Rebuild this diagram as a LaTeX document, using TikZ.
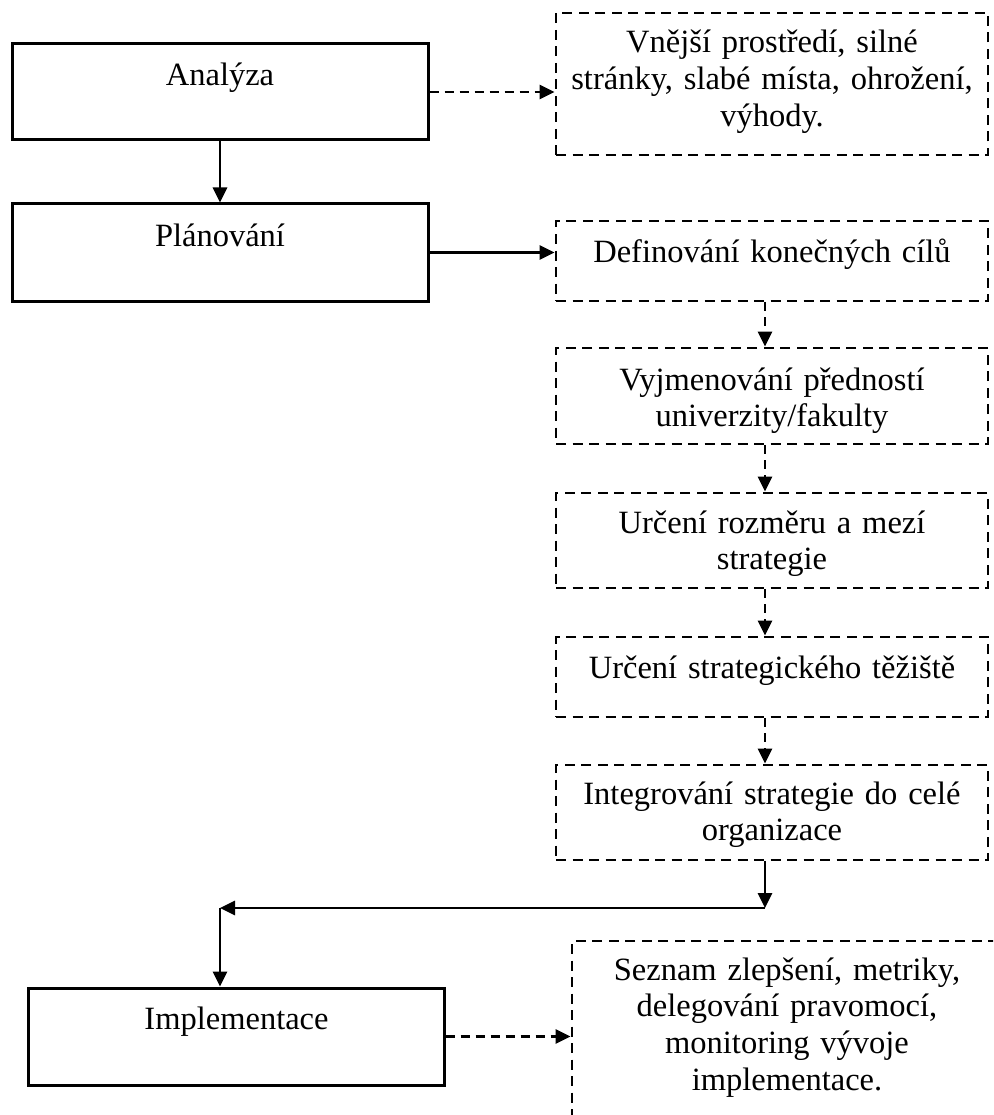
\documentclass[tikz,border=0pt]{standalone}
\usepackage{fontspec}
\setmainfont{Liberation Serif}
\usetikzlibrary{arrows.meta}
\begin{document}
\begin{tikzpicture}[x=1pt,y=-1pt,
  solidbox/.style={draw, line width=3pt, minimum width=416pt, inner sep=0pt},
  dashbox/.style={draw, line width=2.8pt, dash pattern=on 10pt off 6.5pt, minimum width=432pt, inner sep=0pt},
  txt/.style={font=\fontsize{32.5}{36.8}\selectfont, inner sep=0pt, anchor=base, align=center, text width=440pt},
  arr/.style={-{Triangle[length=15pt,width=14pt]}, line width=2.8pt},
  darr/.style={arr, dash pattern=on 9pt off 6pt}]
\useasboundingbox (0,0) rectangle (993,1115);
\clip (0,0) rectangle (993,1115);
% left column boxes
\node[solidbox, minimum height=96pt] (A) at (220,92) {};
\node[solidbox, minimum height=97pt] (P) at (220,252.5) {};
\node[solidbox, minimum height=97pt] (I) at (236,1036.5) {};
\node[txt] (At) at (220,86) {Analýza};
\node[txt] (Pt) at (220,247) {Plánování};
\node[txt] (It) at (236.5,1029) {Implementace};
% right column boxes
\node[dashbox, minimum height=142pt] (R1) at (772,84) {};
\node[dashbox, minimum height=80pt] (Def) at (772,261) {};
\node[dashbox, minimum height=96pt] (Vyj) at (772,396) {};
\node[dashbox, minimum height=95pt] (U1) at (772,540.5) {};
\node[dashbox, minimum height=80pt] (U2) at (772,677) {};
\node[dashbox, minimum height=95pt] (Int) at (772,812.5) {};
\node[dashbox, minimum width=430pt, minimum height=259pt] (L) at (787,1070.5) {};
\node[txt] (R1t) at (772,53) {Vnější prostředí, silné\\stránky, slabé místa, ohrožení,\\výhody.};
\node[txt] (Deft) at (772,262) {Definování konečných cílů};
\node[txt] (Vyjt) at (772,390) {Vyjmenování předností\\univerzity/fakulty};
\node[txt] (U1t) at (772,533) {Určení rozměru a mezí\\strategie};
\node[txt] (U2t) at (772,678) {Určení strategického těžiště};
\node[txt] (Intt) at (772,804) {Integrování strategie do celé\\organizace};
\node[txt] (Lt) at (787,980) {Seznam zlepšení, metriky,\\delegování pravomocí,\\monitoring vývoje\\implementace.};
% connectors
\coordinate (col) at (765,0);
\coordinate (t1) at (765,908);
\coordinate (t2) at (220,908);
\draw[arr] (A.south) -- (P.north);
\draw[darr] (A.east) -- (A.east -| R1.west);
\draw[arr] (P.east) -- (P.east -| Def.west);
\draw[darr] (Def.south -| col) -- (Vyj.north -| col);
\draw[darr] (Vyj.south -| col) -- (U1.north -| col);
\draw[darr] (U1.south -| col) -- (U2.north -| col);
\draw[darr] (U2.south -| col) -- (Int.north -| col);
\draw[arr] (Int.south -| col) -- (t1);
\draw[arr] (t1) -- (t2);
\draw[arr] (t2) -- (t2 |- I.north);
\draw[darr] (I.east) -- (I.east -| L.west);
\end{tikzpicture}
\end{document}
